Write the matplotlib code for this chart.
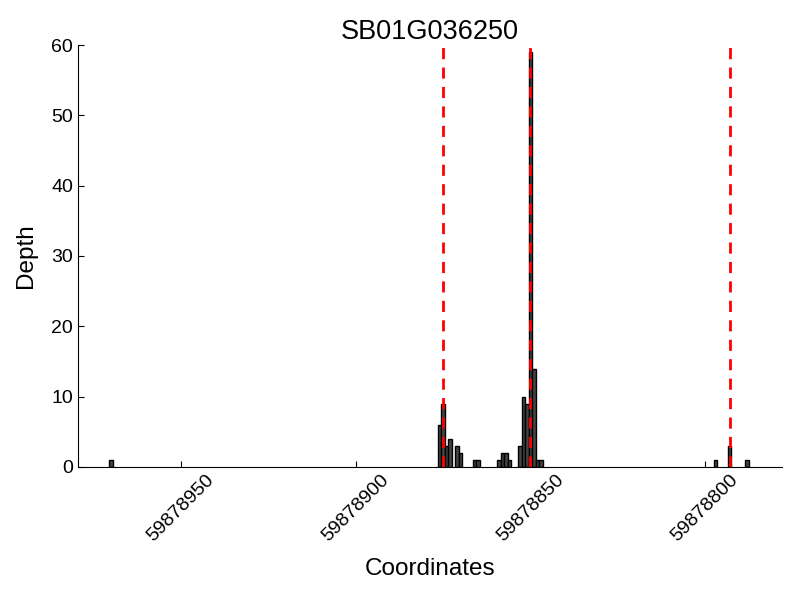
import matplotlib
matplotlib.use("Agg")
import matplotlib.pyplot as plt

plt.rcParams['font.family'] = ['Liberation Sans', 'DejaVu Sans']

title = "SB01G036250"
coords = [59878970,
          59878876, 59878875, 59878874, 59878873, 59878871, 59878870,
          59878866, 59878865,
          59878859, 59878858, 59878857, 59878856,
          59878853, 59878852, 59878851, 59878850, 59878849, 59878848, 59878847,
          59878797, 59878793, 59878788]
depth = [1,
         6, 9, 3, 4, 3, 2,
         1, 1,
         1, 2, 2, 1,
         3, 10, 9, 59, 14, 1, 1,
         1, 3, 1]
marks = [59878875, 59878850, 59878793]
xticks = [59878950, 59878900, 59878850, 59878800]
yticks = [0, 10, 20, 30, 40, 50, 60]

fig = plt.figure(figsize=(8, 6), dpi=100)
ax = fig.add_axes([0.0975, 0.2217, 0.88, 0.7033])
ax.bar(coords, depth, width=1.0, color='#444444', edgecolor='black', linewidth=1.0, zorder=2)
for m in marks:
    ax.axvline(m, color='red', linestyle='--', linewidth=2, dashes=(4, 3), zorder=3)

ax.set_xlim(max(coords) + 9.5, min(coords) - 10)
ax.set_ylim(0, 60)
ax.set_xticks(xticks)
ax.set_xticklabels([str(t) for t in xticks], rotation=45, fontsize=14)
ax.set_yticks(yticks)
ax.set_yticklabels([str(t) for t in yticks], fontsize=14)
ax.spines['top'].set_visible(False)
ax.spines['right'].set_visible(False)
ax.tick_params(direction='in', top=False, right=False, length=4)
ax.set_xlabel("Coordinates", fontsize=17.5, labelpad=9)
ax.set_ylabel("Depth", fontsize=17.5, labelpad=10)
ax.set_title(title, fontsize=19.5, pad=3)

fig.savefig("out.png", dpi=100)
